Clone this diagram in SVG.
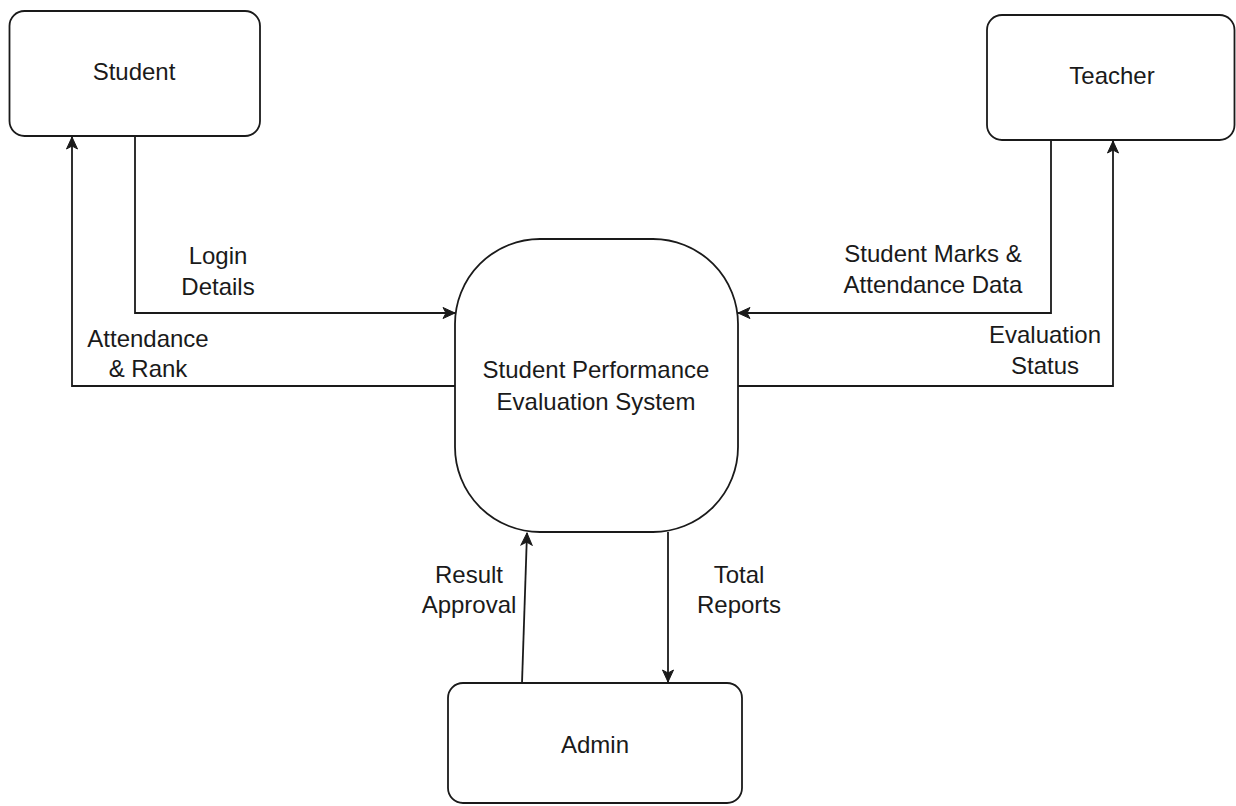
<svg xmlns="http://www.w3.org/2000/svg" width="1236" height="806" viewBox="0 0 1236 806">
<style>
.box{fill:#ffffff;stroke:#1a1a1a;stroke-width:1.8}
.t{font-family:"Liberation Sans",Arial,sans-serif;font-size:24px;fill:#1a1a1a;text-anchor:middle}
.c{fill:none;stroke:#1a1a1a;stroke-width:1.8}
</style>
<defs>
<marker id="arr" markerUnits="userSpaceOnUse" markerWidth="14" markerHeight="14" viewBox="0 0 14 14" refX="13" refY="7" orient="auto">
<path d="M1,1.5 L13,7 L1,12.5 L4,7 Z" fill="#1a1a1a" stroke="#1a1a1a" stroke-width="1"/>
</marker>
</defs>
<rect width="1236" height="806" fill="#ffffff"/>
<g id="connectors">
<path class="c" d="M135,136 V313 H455" marker-end="url(#arr)"/>
<path class="c" d="M455,386 H72 V137" marker-end="url(#arr)"/>
<path class="c" d="M1051,140 V313 H738" marker-end="url(#arr)"/>
<path class="c" d="M738,386 H1113 V141" marker-end="url(#arr)"/>
<path class="c" d="M522,683 L527,533" marker-end="url(#arr)"/>
<path class="c" d="M668,532 V682" marker-end="url(#arr)"/>
<text class="t"><tspan x="218" y="264">Login</tspan><tspan x="218" y="295">Details</tspan></text>
<text class="t"><tspan x="148" y="347">Attendance</tspan><tspan x="148" y="377">&amp; Rank</tspan></text>
<text class="t"><tspan x="933" y="262">Student Marks &amp;</tspan><tspan x="933" y="293">Attendance Data</tspan></text>
<text class="t"><tspan x="1045" y="343">Evaluation</tspan><tspan x="1045" y="374">Status</tspan></text>
<text class="t"><tspan x="469" y="583">Result</tspan><tspan x="469" y="613">Approval</tspan></text>
<text class="t"><tspan x="739" y="583">Total</tspan><tspan x="739" y="613">Reports</tspan></text>
</g>
<g id="student">
<rect class="box" x="9.5" y="11" width="250.5" height="125" rx="15"/>
<text class="t" x="134" y="80">Student</text>
</g>
<g id="teacher">
<rect class="box" x="987" y="15" width="247.5" height="125" rx="15"/>
<text class="t" x="1112" y="84">Teacher</text>
</g>
<g id="system">
<rect class="box" x="455" y="239" width="283" height="293" rx="85"/>
<text class="t"><tspan x="596" y="378">Student Performance</tspan><tspan x="596" y="410">Evaluation System</tspan></text>
</g>
<g id="admin">
<rect class="box" x="448" y="683" width="294" height="120" rx="15"/>
<text class="t" x="595" y="753">Admin</text>
</g>
</svg>
